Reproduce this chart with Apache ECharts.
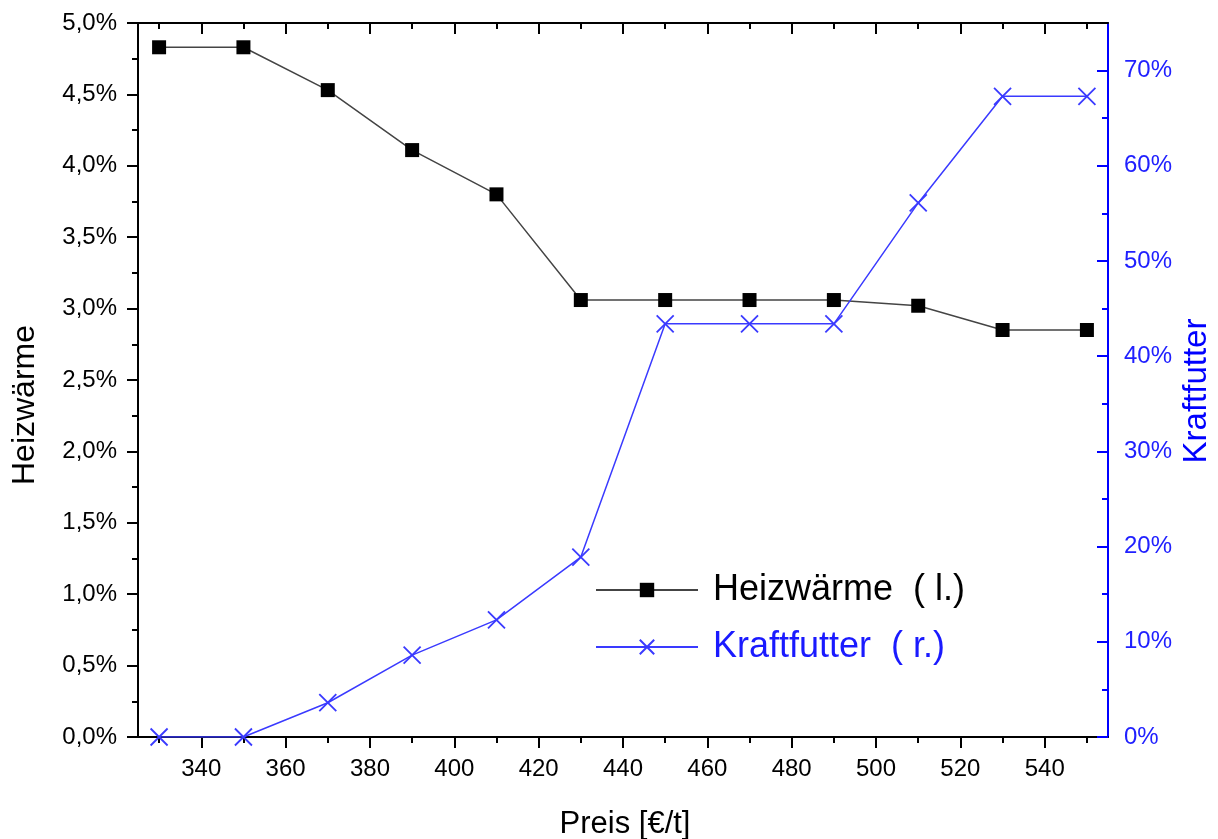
<!DOCTYPE html>
<html>
<head>
<meta charset="utf-8">
<script src="https://cdn.jsdelivr.net/npm/echarts@6/dist/echarts.min.js"></script>
<style>
  html, body { margin: 0; padding: 0; background: #fff; }
  #chart { width: 1218px; height: 839px; }
</style>
</head>
<body>
<div id="chart"></div>
<script>
// Price steps in €/t
const preis = [330, 350, 370, 390, 410, 430, 450, 470, 490, 510, 530, 550];
// Share of heating heat (left axis, %)
const heizwaerme = [4.83, 4.83, 4.53, 4.11, 3.80, 3.06, 3.06, 3.06, 3.06, 3.02, 2.85, 2.85];
// Share of concentrate feed (right axis, %)
const kraftfutter = [0, 0, 3.6, 8.6, 12.3, 18.9, 43.4, 43.4, 43.4, 56.1, 67.3, 67.3];

// Tick positions
const xMajor = [340, 360, 380, 400, 420, 440, 460, 480, 500, 520, 540];
const xMinor = [330, 350, 370, 390, 410, 430, 450, 470, 490, 510, 530, 550];
const rMajor = [0, 10, 20, 30, 40, 50, 60, 70];
const rMinor = [5, 15, 25, 35, 45, 55, 65];

const FONT = "'Liberation Sans', Arial, sans-serif";
const BLUE = '#0000ff';
const X_MIN = 325, X_MAX = 555;

const chart = echarts.init(document.getElementById('chart'), null, { renderer: 'canvas' });

function xAxisDef(position, ticks, len, inside, withLine, withLabel) {
  return {
    type: 'value', position: position, min: X_MIN, max: X_MAX,
    axisLine: { show: withLine, onZero: false, lineStyle: { color: '#000', width: 2 } },
    axisTick: { show: true, inside: inside, length: len, customValues: ticks, lineStyle: { color: '#000', width: 2 } },
    axisLabel: withLabel ? { show: true, customValues: ticks, fontSize: 24, fontFamily: FONT, color: '#000', margin: 20 } : { show: false },
    splitLine: { show: false }
  };
}

const option = {
  animation: false,
  backgroundColor: '#fff',
  grid: { left: 138, right: 110, top: 23, bottom: 102, containLabel: false },
  xAxis: [
    xAxisDef('bottom', xMajor, 11, false, true, true),
    xAxisDef('bottom', xMinor, 6, false, false, false),
    xAxisDef('top', xMajor, 11, true, true, false),
    xAxisDef('top', xMinor, 6, true, false, false)
  ],
  yAxis: [
    {
      type: 'value', position: 'left', min: 0, max: 5, interval: 0.5,
      axisLine: { show: true, onZero: false, lineStyle: { color: '#000', width: 2 } },
      axisTick: { show: true, length: 11, lineStyle: { color: '#000', width: 2 } },
      minorTick: { show: true, splitNumber: 2, length: 6, lineStyle: { color: '#000', width: 2 } },
      axisLabel: {
        fontSize: 24, fontFamily: FONT, color: '#000', margin: 21,
        formatter: v => v.toFixed(1).replace('.', ',') + '%'
      },
      splitLine: { show: false }, minorSplitLine: { show: false }
    },
    {
      type: 'value', position: 'right', min: 0, max: 75,
      axisLine: { show: true, onZero: false, lineStyle: { color: BLUE, width: 2 } },
      axisTick: { show: true, inside: true, length: 11, customValues: rMajor, lineStyle: { color: BLUE, width: 2 } },
      axisLabel: { customValues: rMajor, fontSize: 24, fontFamily: FONT, color: '#2020ff', margin: 16, formatter: v => v + '%' },
      splitLine: { show: false }
    },
    {
      type: 'value', position: 'right', min: 0, max: 75,
      axisLine: { show: false, onZero: false },
      axisTick: { show: true, inside: true, length: 6, customValues: rMinor, lineStyle: { color: BLUE, width: 2 } },
      axisLabel: { show: false },
      splitLine: { show: false }
    }
  ],
  legend: {
    orient: 'vertical', left: 595, top: 570, padding: 0,
    itemWidth: 102, itemHeight: 18, itemGap: 17,
    selectedMode: false,
    textStyle: { fontSize: 36, fontFamily: FONT, lineHeight: 40, padding: [0, 0, 0, 10] },
    data: [
      { name: 'Heizwärme  ( l.)', textStyle: { color: '#000' } },
      { name: 'Kraftfutter  ( r.)', textStyle: { color: '#1a1aff' } }
    ]
  },
  graphic: [
    { type: 'text', x: 25, y: 405, rotation: Math.PI / 2,
      style: { text: 'Heizwärme', font: '32px ' + FONT, fill: '#000', textAlign: 'center', textVerticalAlign: 'middle' } },
    { type: 'text', x: 1197, y: 391, rotation: Math.PI / 2,
      style: { text: 'Kraftfutter', font: '33px ' + FONT, fill: BLUE, textAlign: 'center', textVerticalAlign: 'middle' } },
    { type: 'text', x: 625, y: 824,
      style: { text: 'Preis [€/t]', font: '31px ' + FONT, fill: '#000', textAlign: 'center', textVerticalAlign: 'middle' } }
  ],
  series: [
    {
      name: 'Heizwärme  ( l.)', type: 'line', xAxisIndex: 0, yAxisIndex: 0,
      data: preis.map((p, i) => [p, heizwaerme[i]]),
      symbol: 'rect', symbolSize: 14,
      itemStyle: { color: '#000' },
      lineStyle: { color: '#444', width: 1.5 },
      emphasis: { disabled: true }
    },
    {
      name: 'Kraftfutter  ( r.)', type: 'line', xAxisIndex: 0, yAxisIndex: 1,
      data: preis.map((p, i) => [p, kraftfutter[i]]),
      symbol: 'path://M0,0L10,10M10,0L0,10', symbolSize: 17,
      itemStyle: { color: 'transparent', borderColor: '#3a3aff', borderWidth: 1.8 },
      lineStyle: { color: '#3a3aff', width: 1.5 },
      emphasis: { disabled: true }
    }
  ]
};

chart.setOption(option);
</script>
</body>
</html>
